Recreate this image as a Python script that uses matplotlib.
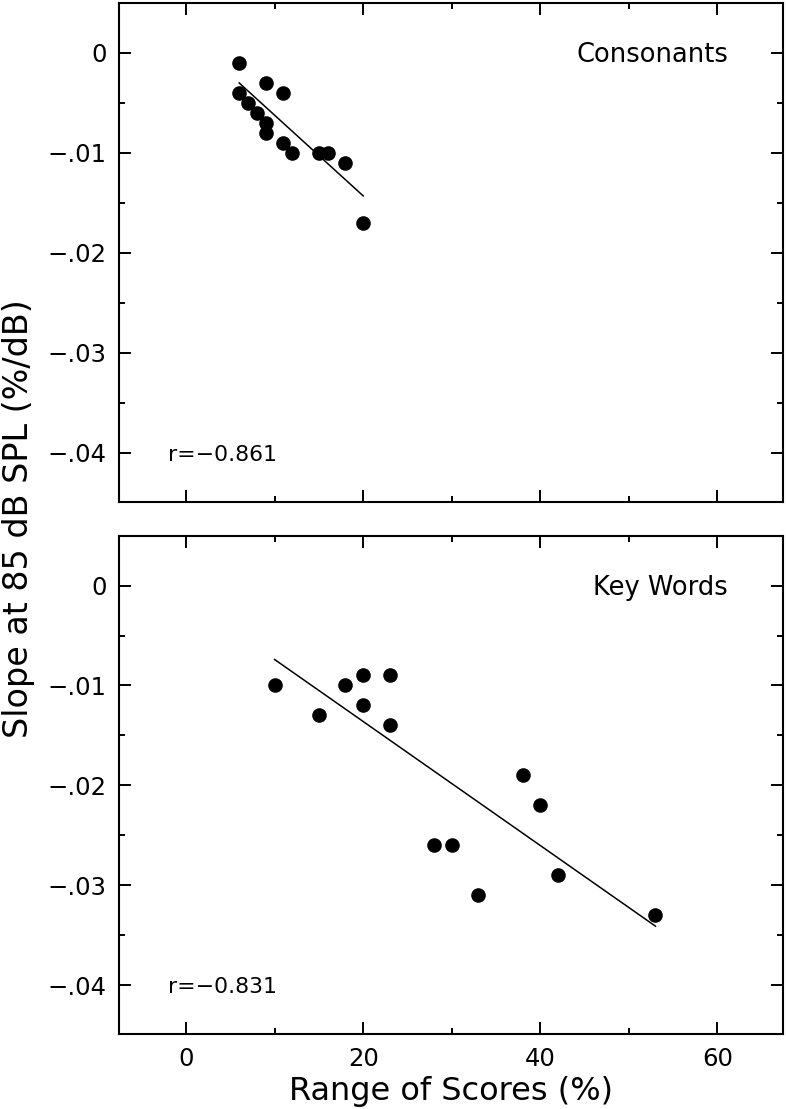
import matplotlib
matplotlib.use("Agg")
import matplotlib.pyplot as plt
from matplotlib.ticker import MultipleLocator, FuncFormatter

# ---- data ----
cons_x = [6, 6, 9, 11, 7, 8, 9, 9, 11, 12, 15, 16, 18, 20]
cons_y = [-0.001, -0.004, -0.003, -0.004, -0.005, -0.006, -0.007, -0.008,
          -0.009, -0.010, -0.010, -0.010, -0.011, -0.017]
cons_fit_x = [6, 20]
cons_fit_y = [-0.0030, -0.0143]
cons_r = "r=\u22120.861"

kw_x = [10, 15, 18, 20, 20, 23, 23, 28, 30, 33, 38, 40, 42, 53]
kw_y = [-0.010, -0.013, -0.010, -0.009, -0.012, -0.009, -0.014, -0.026,
        -0.026, -0.031, -0.019, -0.022, -0.029, -0.033]
kw_fit_x = [10, 53]
kw_fit_y = [-0.0074, -0.0341]
kw_r = "r=\u22120.831"

panel_titles = ["Consonants", "Key Words"]
xlabel = "Range of Scores (%)"
ylabel = "Slope at 85 dB SPL (%/dB)"

plt.rcParams['font.family'] = ['DejaVu Sans']

fig = plt.figure(figsize=(7.86, 11.09), dpi=100)
ax1 = fig.add_axes([0.1514, 0.5476, 0.8448, 0.4497])
ax2 = fig.add_axes([0.1514, 0.0676, 0.8448, 0.4494])


def yfmt(v, pos):
    if abs(v) < 1e-9:
        return "0"
    s = ("%.2f" % abs(v)).lstrip("0")
    return ("\u2212" if v < 0 else "") + s


panels = [
    (ax1, cons_x, cons_y, cons_fit_x, cons_fit_y, cons_r, panel_titles[0]),
    (ax2, kw_x, kw_y, kw_fit_x, kw_fit_y, kw_r, panel_titles[1]),
]

for i, (ax, x, y, fx, fy, rt, title) in enumerate(panels):
    ax.plot(x, y, 'o', color='black', markersize=10.5, markeredgewidth=0)
    ax.plot(fx, fy, '-', color='black', linewidth=1.1)
    ax.set_xlim(-7.57, 67.4)
    ax.set_ylim(-0.0449, 0.005)
    ax.xaxis.set_major_locator(MultipleLocator(20))
    ax.xaxis.set_minor_locator(MultipleLocator(10))
    ax.yaxis.set_major_locator(MultipleLocator(0.01))
    ax.yaxis.set_minor_locator(MultipleLocator(0.005))
    ax.yaxis.set_major_formatter(FuncFormatter(yfmt))
    ax.tick_params(which='both', direction='in', top=True, right=True,
                   width=1.4, color='black')
    ax.tick_params(which='major', length=8.5, labelsize=17.5, pad=9)
    ax.tick_params(which='minor', length=4.2)
    for sp in ax.spines.values():
        sp.set_linewidth(1.5)
        sp.set_color('black')
    ax.text(61.2, -0.0002, title, ha='right', va='center', fontsize=18.5)
    ax.text(-2.0, -0.0402, rt, ha='left', va='center', fontsize=15.8)

ax1.tick_params(axis='x', labelbottom=False)
ax2.set_xlabel(xlabel, fontsize=23, labelpad=4)

fig.text(0.023, 0.532, ylabel, rotation=90, ha='center', va='center',
         fontsize=24)

fig.savefig("out.png", dpi=100)
